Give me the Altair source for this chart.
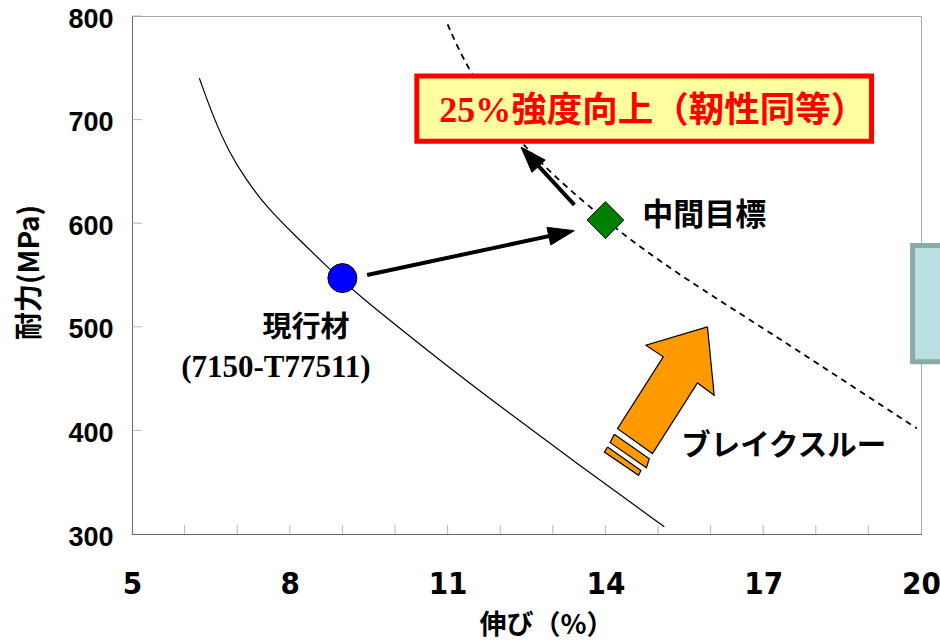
import altair as alt
import pandas as pd

# ---------------- data ----------------
# current trade-off curve (solid)
cur_x = [6.28, 6.54, 6.85, 7.17, 7.55, 8.12, 8.69, 9.17, 10.84, 12.11, 13.38, 15.12]
cur_y = [740, 703, 668, 642, 616, 587, 559, 536, 468, 419, 371, 307]
# target curve (dashed)
tgt_x = [11.0, 11.38, 12.33, 13.98, 14.9, 15.78, 17.05, 18.32, 19.92]
tgt_y = [792, 748, 676, 603, 568, 538, 497, 455, 402]

# markers
now_x, now_y = [9.0], [547]          # 現行材
mid_x, mid_y = [14.0], [603]         # 中間目標

# black arrows: shaft start / shaft end, head polygon
shaft_x1 = [9.47, 13.41]
shaft_y1 = [550, 617.7]
shaft_x2 = [12.925, 12.73]
shaft_y2 = [587.5, 655.0]
head_id = ["a1", "a1", "a1", "a1", "a2", "a2", "a2", "a2"]
head_x = [13.408, 12.961, 12.889, 13.408, 12.395, 12.856, 12.604, 12.395]
head_y = [592.8, 579.0, 596.0, 592.8, 673.5, 660.9, 649.1, 673.5]

# orange breakthrough arrow (+ two stripes)
big_id = ["body"] * 8 + ["s1"] * 5 + ["s2"] * 5
big_x = [15.94, 16.068, 15.75, 14.895, 14.23, 15.10, 14.77, 15.94,
         14.168, 14.833, 14.78, 14.09, 14.168,
         14.04, 14.675, 14.63, 13.98, 14.04]
big_y = [500.0, 433.9, 445.8, 377.6, 401.7, 471.0, 482.3, 500.0,
         396.2, 372.7, 364.0, 388.2, 396.2,
         383.9, 361.4, 356.6, 379.1, 383.9]

# boxes
red_box = dict(x=[10.415], x2=[19.06], y=[742.0], y2=[679.1])
blue_box = dict(x=[19.84], x2=[20.5], y=[578.5], y2=[466.3])

# axis ticks
x_ticks = [5, 8, 11, 14, 17, 20]
y_ticks = [300, 400, 500, 600, 700, 800]
minor_x = list(range(6, 20))
minor_y = [400, 500, 600, 700, 800]

# texts
lbl_now = ["現行材"]; lbl_now_x = [8.306]; lbl_now_y = [499.2]
lbl_alloy = ["(7150-T77511)"]; lbl_alloy_x = [7.736]; lbl_alloy_y = [460.1]
lbl_mid = ["中間目標"]; lbl_mid_x = [14.70]; lbl_mid_y = [607.0]
lbl_bt = ["ブレイクスルー"]; lbl_bt_x = [15.44]; lbl_bt_y = [384.6]
lbl_pct = ["25%"]; lbl_pct_x = [10.843]; lbl_pct_y = [708.5]
lbl_goal = ["強度向上（靭性同等）"]; lbl_goal_x = [12.21]; lbl_goal_y = [708.5]

JP = "Noto Sans CJK JP"
SERIF = "Liberation Serif"
SANS = "Liberation Sans"
NARROW = "Liberation Sans Narrow, DejaVu Sans Condensed, sans-serif"

XS = alt.Scale(domain=[5, 20], nice=False, zero=False)
YS = alt.Scale(domain=[300, 800], nice=False, zero=False)

X_AXIS = alt.Axis(values=x_ticks, ticks=False, grid=False, domainColor="#666666",
                  labelFont=NARROW, labelFontSize=31, labelFontWeight="bold",
                  labelColor="black", labelPadding=35, labelFlush=False,
                  labelOverlap=False, title="伸び（%）", titleFont=JP,
                  titleFontSize=27, titleFontWeight="bold", titleColor="black",
                  titleX=414, titleY=91, titleBaseline="middle")
Y_AXIS = alt.Axis(values=y_ticks, ticks=False, grid=False, domainColor="#666666",
                  labelFont=SANS, labelFontSize=27, labelFontWeight="bold",
                  labelColor="black", labelPadding=19, labelFlush=False,
                  labelOverlap=False, labelOffset=3, title="耐力(MPa)", titleFont=JP,
                  titleFontSize=28, titleFontWeight="bold", titleColor="black",
                  titleAngle=270, titleX=-102, titleY=256, titleBaseline="middle")


def X(f="x"):
    return alt.X(f, type="quantitative", scale=XS, axis=X_AXIS)


def Y(f="y"):
    return alt.Y(f, type="quantitative", scale=YS, axis=Y_AXIS)


# ---------------- layers ----------------
cur_df = pd.DataFrame({"x": cur_x, "y": cur_y})
solid = alt.Chart(cur_df).mark_line(color="black", strokeWidth=1.2, interpolate="basis").encode(
    x=X(), y=Y())

tgt_df = pd.DataFrame({"x": tgt_x, "y": tgt_y})
dashed = alt.Chart(tgt_df).mark_line(color="black", strokeWidth=1.8, strokeDash=[6, 5],
                                     interpolate="basis").encode(x=X(), y=Y())

xt = alt.Chart(pd.DataFrame({"x": minor_x, "y": [300] * len(minor_x)})).mark_tick(
    orient="vertical", color="#999999", size=9, thickness=1, yOffset=-4.5).encode(x=X(), y=Y())
yt = alt.Chart(pd.DataFrame({"x": [5] * len(minor_y), "y": minor_y})).mark_tick(
    orient="horizontal", color="#999999", size=10, thickness=1, xOffset=5).encode(x=X(), y=Y())

red = alt.Chart(pd.DataFrame(red_box)).mark_rect(fill="#FFFFA0", stroke="#FF0000", strokeWidth=5).encode(
    x=X(), x2="x2", y=Y(), y2="y2")
blue = alt.Chart(pd.DataFrame(blue_box)).mark_rect(fill="#BAE0E4", stroke="#8DA8A8", strokeWidth=5).encode(
    x=X(), x2="x2", y=Y(), y2="y2")

shafts = alt.Chart(pd.DataFrame({"x": shaft_x1, "y": shaft_y1, "x2": shaft_x2, "y2": shaft_y2})).mark_rule(
    color="black", strokeWidth=4).encode(x=X(), y=Y(), x2="x2", y2="y2")

heads_df = pd.DataFrame({"id": head_id, "x": head_x, "y": head_y, "o": list(range(len(head_x)))})
heads = alt.Chart(heads_df).mark_line(fill="black", stroke="black", strokeWidth=1).encode(
    x=X(), y=Y(), order="o:Q", detail="id:N")

big_df = pd.DataFrame({"id": big_id, "x": big_x, "y": big_y, "o": list(range(len(big_x)))})
big = alt.Chart(big_df).mark_line(fill="#FF9900", stroke="black", strokeWidth=1.2, strokeJoin="miter").encode(
    x=X(), y=Y(), order="o:Q", detail="id:N")

now_pt = alt.Chart(pd.DataFrame({"x": now_x, "y": now_y})).mark_point(
    shape="circle", filled=True, fill="#0000FF", stroke="black", strokeWidth=1, size=841, opacity=1).encode(x=X(), y=Y())
mid_pt = alt.Chart(pd.DataFrame({"x": mid_x, "y": mid_y})).mark_point(
    shape="diamond", filled=True, fill="#008000", stroke="black", strokeWidth=1, size=1350, opacity=1).encode(x=X(), y=Y())


def txt(labels, xs, ys, font, size, color="black", align="center"):
    df = pd.DataFrame({"t": labels, "x": xs, "y": ys})
    return alt.Chart(df).mark_text(font=font, fontSize=size, fontWeight="bold", color=color,
                                   align=align, baseline="middle").encode(x=X(), y=Y(), text="t:N")


t1 = txt(lbl_now, lbl_now_x, lbl_now_y, JP, 29)
t2 = txt(lbl_alloy, lbl_alloy_x, lbl_alloy_y, SERIF, 31)
t3 = txt(lbl_mid, lbl_mid_x, lbl_mid_y, JP, 31, align="left")
t4 = txt(lbl_bt, lbl_bt_x, lbl_bt_y, JP, 29.5, align="left")
t5 = txt(lbl_pct, lbl_pct_x, lbl_pct_y, SERIF, 36, color="#FF0000", align="left")
t6 = txt(lbl_goal, lbl_goal_x, lbl_goal_y, JP, 35.5, color="#FF0000", align="left")

chart = alt.layer(
    solid, dashed, xt, yt, blue, shafts, heads, red, big, now_pt, mid_pt, t1, t2, t3, t4, t5, t6
).properties(
    width=789, height=518,
    autosize=alt.AutoSizeParams(type="none"),
    padding={"left": 132, "top": 16, "right": 19, "bottom": 107},
    background="white",
).configure_view(stroke="#AAAAAA", strokeWidth=1)

chart.save("out.html", embed_options={"renderer": "svg", "actions": False})
